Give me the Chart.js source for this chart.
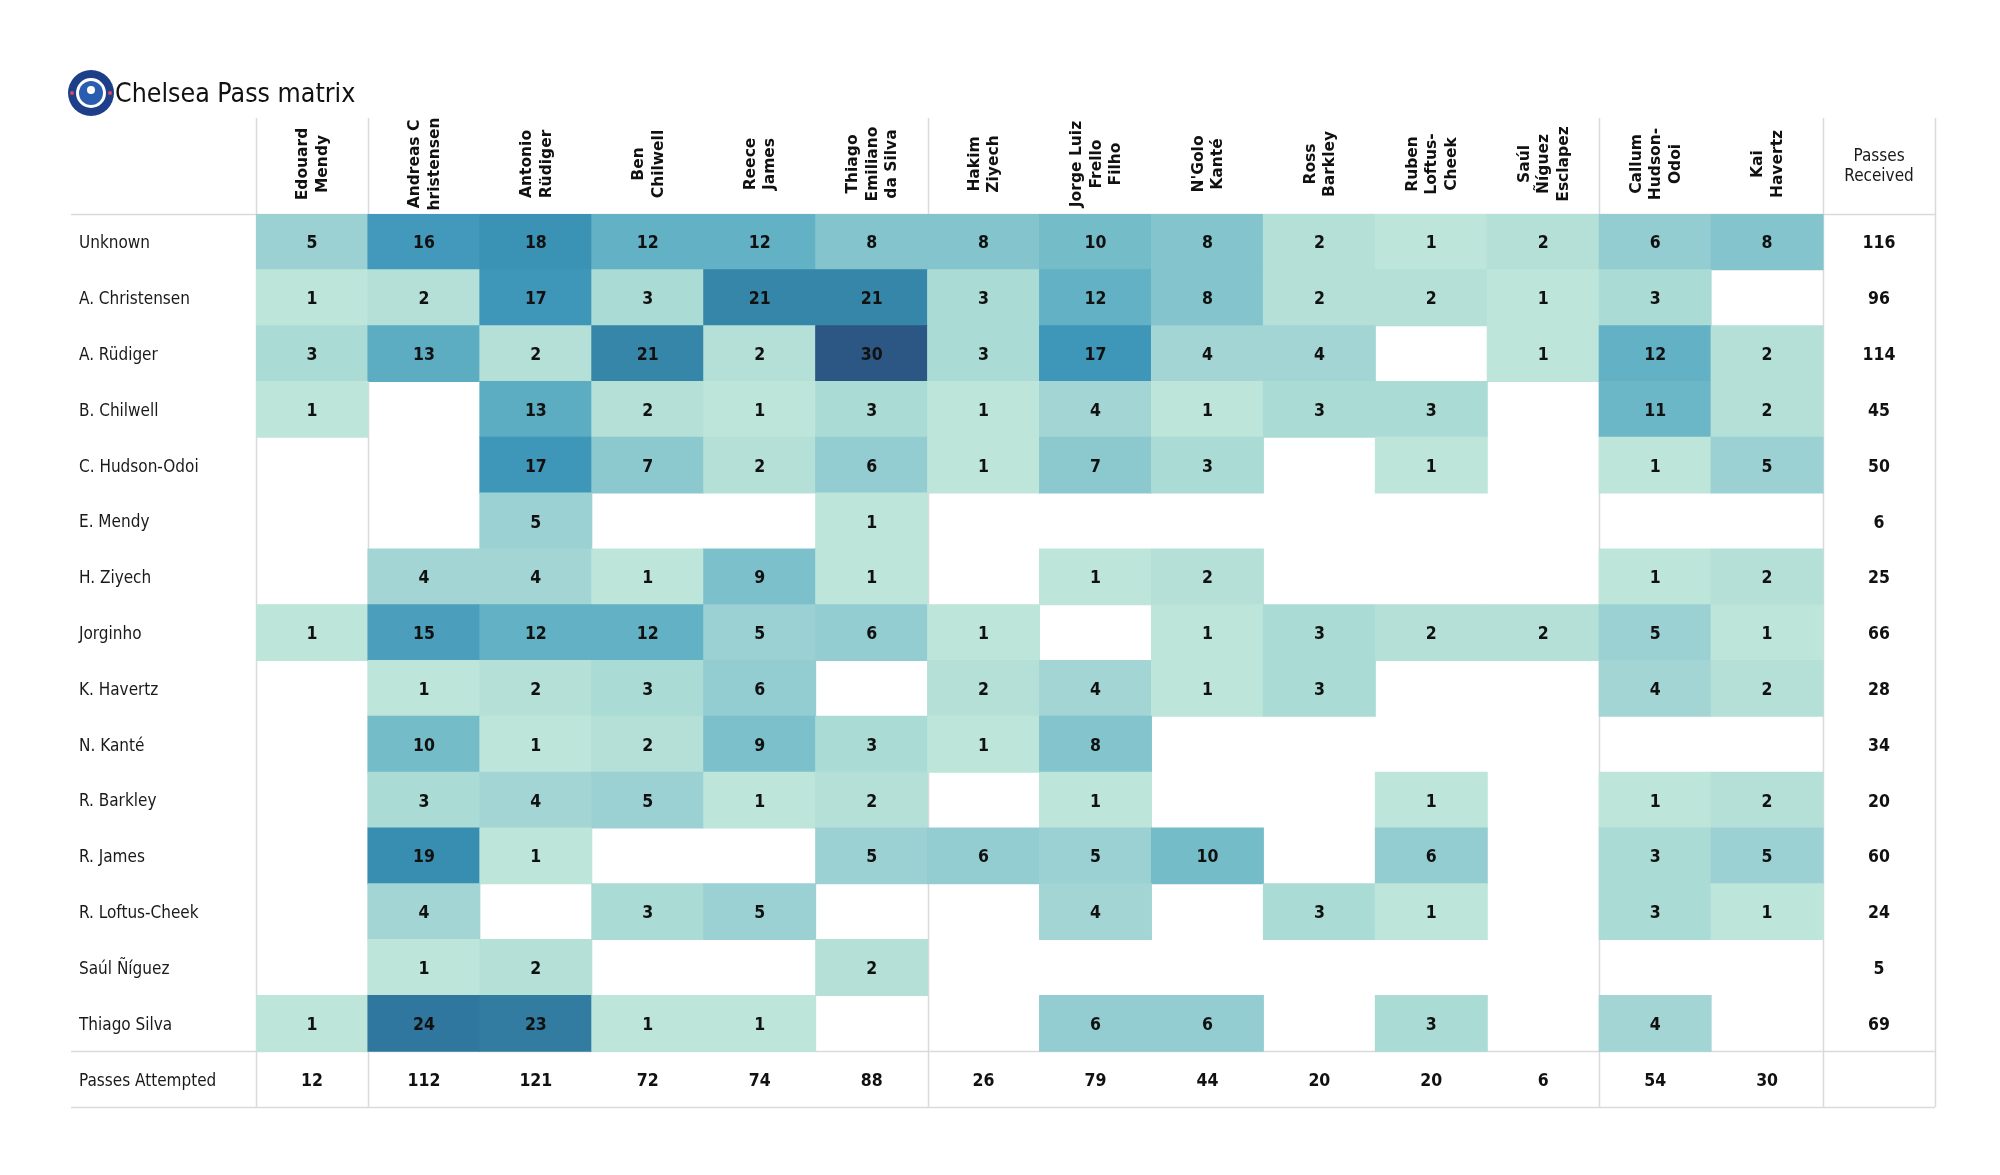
<!DOCTYPE html>
<html>
<head>
<meta charset="utf-8">
<title>Chelsea Pass matrix</title>
<script src="https://cdn.jsdelivr.net/npm/chart.js@4.4.1/dist/chart.umd.min.js"></script>
<style>
  html, body { margin: 0; padding: 0; background: #ffffff; }
  #wrap { width: 2000px; height: 1175px; position: relative; }
</style>
</head>
<body>
<div id="wrap"><canvas id="passMatrix"></canvas></div>
<script>
// passers (columns) and receivers (rows)
const passers = ['Edouard Mendy', 'Andreas Christensen', 'Antonio Rüdiger', 'Ben Chilwell', 'Reece James',
  'Thiago Emiliano da Silva', 'Hakim Ziyech', 'Jorge Luiz Frello Filho', "N'Golo Kanté", 'Ross Barkley',
  'Ruben Loftus-Cheek', 'Saúl Ñíguez Esclapez', 'Callum Hudson-Odoi', 'Kai Havertz', 'Passes Received'];
const headerLines = [['Edouard', 'Mendy'], ['Andreas C', 'hristensen'], ['Antonio', 'Rüdiger'], ['Ben', 'Chilwell'],
  ['Reece', 'James'], ['Thiago', 'Emiliano', 'da Silva'], ['Hakim', 'Ziyech'], ['Jorge Luiz', 'Frello', 'Filho'],
  ["N'Golo", 'Kanté'], ['Ross', 'Barkley'], ['Ruben', 'Loftus-', 'Cheek'], ['Saúl', 'Ñíguez', 'Esclapez'],
  ['Callum', 'Hudson-', 'Odoi'], ['Kai', 'Havertz']];
const receivers = ['Unknown', 'A. Christensen', 'A. Rüdiger', 'B. Chilwell', 'C. Hudson-Odoi', 'E. Mendy',
  'H. Ziyech', 'Jorginho', 'K. Havertz', 'N. Kanté', 'R. Barkley', 'R. James', 'R. Loftus-Cheek',
  'Saúl Ñíguez', 'Thiago Silva', 'Passes Attempted'];

// one row per receiver, one value per passer (null = no passes)
const _ = null;
const passes = [
  [5, 16, 18, 12, 12, 8, 8, 10, 8, 2, 1, 2, 6, 8],
  [1, 2, 17, 3, 21, 21, 3, 12, 8, 2, 2, 1, 3, _],
  [3, 13, 2, 21, 2, 30, 3, 17, 4, 4, _, 1, 12, 2],
  [1, _, 13, 2, 1, 3, 1, 4, 1, 3, 3, _, 11, 2],
  [_, _, 17, 7, 2, 6, 1, 7, 3, _, 1, _, 1, 5],
  [_, _, 5, _, _, 1, _, _, _, _, _, _, _, _],
  [_, 4, 4, 1, 9, 1, _, 1, 2, _, _, _, 1, 2],
  [1, 15, 12, 12, 5, 6, 1, _, 1, 3, 2, 2, 5, 1],
  [_, 1, 2, 3, 6, _, 2, 4, 1, 3, _, _, 4, 2],
  [_, 10, 1, 2, 9, 3, 1, 8, _, _, _, _, _, _],
  [_, 3, 4, 5, 1, 2, _, 1, _, _, 1, _, 1, 2],
  [_, 19, 1, _, _, 5, 6, 5, 10, _, 6, _, 3, 5],
  [_, 4, _, 3, 5, _, _, 4, _, 3, 1, _, 3, 1],
  [_, 1, 2, _, _, 2, _, _, _, _, _, _, _, _],
  [1, 24, 23, 1, 1, _, _, 6, 6, _, 3, _, 4, _]
];
const passesReceived = [116, 96, 114, 45, 50, 6, 25, 66, 28, 34, 20, 60, 24, 5, 69];
const passesAttempted = [12, 112, 121, 72, 74, 88, 26, 79, 44, 20, 20, 6, 54, 30];

// colour ramp (value -> rgb)
const rampStops = [
  [1, [189, 229, 218]], [2, [180, 224, 215]], [3, [170, 219, 213]], [4, [162, 213, 211]],
  [5, [155, 209, 210]], [6, [147, 205, 209]], [8, [131, 196, 205]], [10, [117, 188, 201]],
  [12, [99, 177, 196]], [13, [92, 172, 194]], [16, [66, 153, 187]], [18, [58, 146, 181]],
  [21, [53, 134, 168]], [24, [48, 119, 159]], [30, [44, 87, 133]]
];
function cellColor(v) {
  if (v <= rampStops[0][0]) return 'rgb(' + rampStops[0][1].join(',') + ')';
  for (let i = 1; i < rampStops.length; i++) {
    const [v1, c1] = rampStops[i];
    const [v0, c0] = rampStops[i - 1];
    if (v <= v1) {
      const t = (v - v0) / (v1 - v0);
      const c = c0.map((a, k) => Math.round(a + (c1[k] - a) * t));
      return 'rgb(' + c.join(',') + ')';
    }
  }
  return 'rgb(' + rampStops[rampStops.length - 1][1].join(',') + ')';
}

const cells = [];
passes.forEach((row, r) => {
  row.forEach((v, c) => {
    if (v !== null) cells.push({ x: passers[c], y: [r - 0.5, r + 0.5], v: v });
  });
});

const LINE = '#dadada';
const COND = '"DejaVu Sans Condensed", "DejaVu Sans", sans-serif';
const SANS = '"DejaVu Sans", sans-serif';

const tablePlugin = {
  id: 'tableDecor',
  beforeDatasetsDraw(chart) {
    const { ctx, scales: { x, y } } = chart;
    const left = 71, right = x.getPixelForValue(14.5);
    ctx.save();
    ctx.strokeStyle = LINE;
    ctx.lineWidth = 1.5;
    [-0.5, 14.5, 15.5].forEach(r => {
      const py = Math.round(y.getPixelForValue(r)) + 0.5;
      ctx.beginPath(); ctx.moveTo(left, py); ctx.lineTo(right, py); ctx.stroke();
    });
    [0, 1, 6, 12, 14, 15].forEach(b => {
      const px = Math.round(x.getPixelForValue(b - 0.5)) + 0.5;
      ctx.beginPath(); ctx.moveTo(px, 118); ctx.lineTo(px, y.getPixelForValue(15.5)); ctx.stroke();
    });
    ctx.restore();
  },
  afterDatasetsDraw(chart) {
    const { ctx, scales: { x, y } } = chart;
    ctx.save();
    ctx.fillStyle = '#111111';
    ctx.textAlign = 'center';
    ctx.textBaseline = 'middle';

    // cell values
    ctx.font = 'bold 17.5px ' + COND;
    passes.forEach((row, r) => row.forEach((v, c) => {
      if (v !== null) ctx.fillText(String(v), x.getPixelForValue(c), y.getPixelForValue(r) + 2);
    }));
    passesReceived.forEach((v, r) => ctx.fillText(String(v), x.getPixelForValue(14), y.getPixelForValue(r) + 2));
    passesAttempted.forEach((v, c) => ctx.fillText(String(v), x.getPixelForValue(c), y.getPixelForValue(15) + 2));

    // row labels
    ctx.textAlign = 'left';
    ctx.font = '17px ' + COND;
    ctx.fillStyle = '#1a1a1a';
    receivers.forEach((name, r) => ctx.fillText(name, 79, y.getPixelForValue(r) + 2));

    // rotated column headers
    ctx.fillStyle = '#111111';
    ctx.font = 'bold 15.5px ' + SANS;
    ctx.textAlign = 'center';
    headerLines.forEach((lines, c) => {
      ctx.save();
      ctx.translate(x.getPixelForValue(c) + 1, 164);
      ctx.rotate(-Math.PI / 2);
      lines.forEach((t, k) => ctx.fillText(t, 0, (k - (lines.length - 1) / 2) * 19.5));
      ctx.restore();
    });
    ctx.font = '17px ' + COND;
    ctx.fillStyle = '#1a1a1a';
    ctx.fillText('Passes', x.getPixelForValue(14), 157);
    ctx.fillText('Received', x.getPixelForValue(14), 177);

    // title + crest
    ctx.textAlign = 'left';
    ctx.font = '26.5px ' + COND;
    ctx.fillStyle = '#111111';
    ctx.fillText('Chelsea Pass matrix', 115, 95);

    const cx = 91, cy = 93;
    ctx.beginPath(); ctx.arc(cx, cy, 23, 0, Math.PI * 2); ctx.fillStyle = '#1d3f8a'; ctx.fill();
    ctx.beginPath(); ctx.arc(cx, cy, 15, 0, Math.PI * 2); ctx.fillStyle = '#ffffff'; ctx.fill();
    ctx.beginPath(); ctx.arc(cx, cy, 12, 0, Math.PI * 2); ctx.fillStyle = '#2a5db0'; ctx.fill();
    ctx.beginPath(); ctx.arc(cx, cy - 3, 4, 0, Math.PI * 2); ctx.fillStyle = '#ffffff'; ctx.fill();
    ctx.fillStyle = '#d84a5c';
    [-19, 19].forEach(dx => { ctx.beginPath(); ctx.arc(cx + dx, cy, 2, 0, Math.PI * 2); ctx.fill(); });
    ctx.restore();
  }
};

new Chart(document.getElementById('passMatrix'), {
  type: 'bar',
  data: {
    labels: passers,
    datasets: [{
      data: cells,
      backgroundColor: ctx => cellColor(ctx.raw.v),
      borderWidth: 0,
      borderSkipped: false,
      inflateAmount: 0.5,
      barPercentage: 1,
      categoryPercentage: 1
    }]
  },
  options: {
    responsive: true,
    maintainAspectRatio: false,
    animation: false,
    layout: { padding: { left: 256, right: 65, top: 214, bottom: 68 } },
    plugins: { legend: { display: false }, tooltip: { enabled: false } },
    scales: {
      x: { type: 'category', display: false, offset: true },
      y: { type: 'linear', display: false, min: -0.5, max: 15.5, reverse: true }
    }
  },
  plugins: [tablePlugin]
});
</script>
</body>
</html>
